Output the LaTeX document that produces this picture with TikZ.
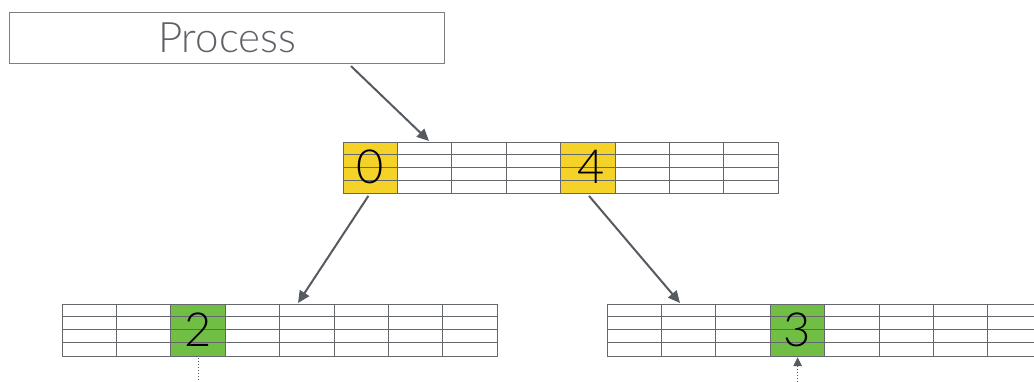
\documentclass[tikz,border=0pt]{standalone}
\usepackage{fontspec}
\setmainfont{Lato Light}
\usetikzlibrary{arrows.meta,calc}
\definecolor{gridgrey}{HTML}{64686D}
\definecolor{boxgrey}{HTML}{7C8085}
\definecolor{textgrey}{HTML}{5E6166}
\definecolor{arrowgrey}{HTML}{565B61}
\definecolor{slotyellow}{HTML}{F4D228}
\definecolor{slotgreen}{HTML}{70BE44}
\tikzset{
  arraybox/.style={draw=gridgrey, line width=1pt, minimum width=435.2pt,
    minimum height=51.5pt, inner sep=0pt, anchor=north west},
  slot/.style={fill=#1, draw=none, minimum width=54.4pt, minimum height=51.5pt,
    inner sep=0pt, anchor=north west},
  digit/.style={font=\fontsize{47}{47}\selectfont, text=black, inner sep=0pt},
  link/.style={draw=arrowgrey, line width=2pt,
    -{Triangle[length=12pt,width=11pt]}},
  pointer/.style={draw=arrowgrey, line width=1pt, dotted},
}
% grid lines of an 8x4 array whose node is #1
\newcommand\arraygrid[1]{%
  \foreach \c in {1,...,7}
    \draw[gridgrey, line width=1pt] ($(#1.north west)+(\c*54.4,0)$) -- ($(#1.south west)+(\c*54.4,0)$);
  \foreach \r in {1,2,3}
    \draw[gridgrey, line width=1pt] ($(#1.north west)+(0,\r*12.875)$) -- ($(#1.north east)+(0,\r*12.875)$);
  \node[arraybox] at (#1.north west) {};
}
\begin{document}
\begin{tikzpicture}[x=1pt,y=-1pt]
\useasboundingbox (0,0) rectangle (1034,382);
\clip (0,0) rectangle (1034,382);

% process box
\node[draw=boxgrey, line width=1.1pt, minimum width=435pt, minimum height=51pt,
  inner sep=0pt, anchor=north west, text=textgrey,
  font=\fontsize{42}{42}\selectfont] (proc) at (9,12) {Process};

% parent array
\node[slot=slotyellow] (m0) at (343,142) {};
\node[slot=slotyellow] (m4) at (560.6,142) {};
\node[arraybox, draw=none] (mid) at (343,142) {};
\arraygrid{mid}
\node[digit] at ($(m0)+(0,-1.5)$) {0};
\node[digit] at ($(m4)+(3,-1.5)$) {4};

% left child array
\node[slot=slotgreen] (l2) at (170.8,304) {};
\node[arraybox, draw=none] (left) at (62,304) {};
\arraygrid{left}
\node[digit] at (l2) {2};

% right child array
\node[slot=slotgreen] (r3) at (770.2,304) {};
\node[arraybox, draw=none] (right) at (607,304) {};
\arraygrid{right}
\node[digit] at (r3) {3};

% connectors
\coordinate (pout) at ($(proc.south west)+(342,2)$);
\coordinate (min) at ($(mid.north west)+(86,-1)$);
\coordinate (m0out) at ($(m0.south)+(-2,2)$);
\coordinate (m4out) at ($(m4.south)+(1,2)$);
\coordinate (lin) at ($(left.north west)+(236,-1)$);
\coordinate (rin) at ($(right.north west)+(73,-1)$);
\draw[link] (pout) -- (min);
\draw[link] (m0out) -- (lin);
\draw[link] (m4out) -- (rin);

% pointers below the children
\coordinate (lptr) at (l2.south |- 0,382);
\coordinate (rptr) at (r3.south |- 0,382);
\draw[pointer] ($(l2.south)+(0,2)$) -- (lptr);
\draw[pointer] (rptr) -- ($(r3.south)+(0,2)$);
\draw[draw=arrowgrey, fill=arrowgrey] ($(r3.south)+(0,2)$) -- ++(-4,8) -- ++(8,0) -- cycle;
\end{tikzpicture}
\end{document}
